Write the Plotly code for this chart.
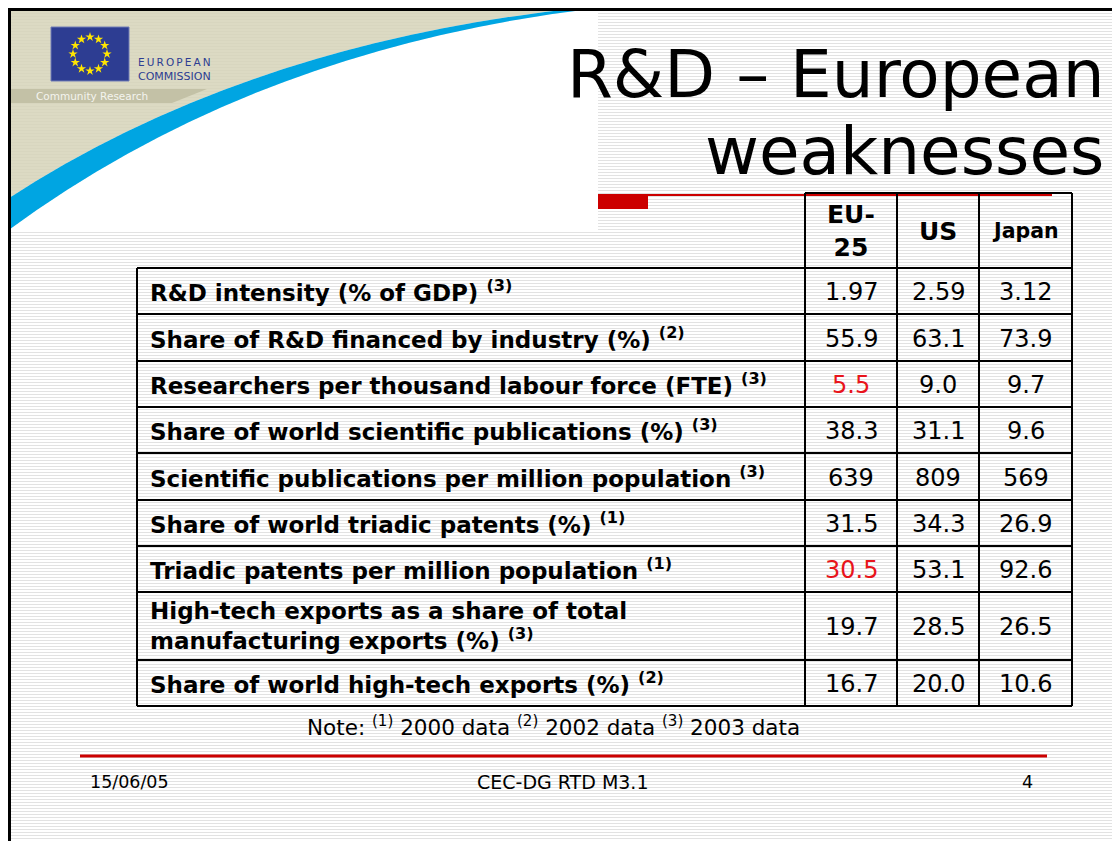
import math

import plotly.graph_objects as go


# table content
COLUMNS = ["EU-<br>25", "US", "Japan"]
INDICATORS = [
    "R&D intensity (% of GDP)",
    "Share of R&D financed by industry (%)",
    "Researchers per thousand labour force (FTE)",
    "Share of world scientific publications (%)",
    "Scientific publications per million population",
    "Share of world triadic patents (%)",
    "Triadic patents per million population",
    "High-tech exports as a share of total<br>manufacturing exports (%)",
    "Share of world high-tech exports (%)",
]
NOTE_REF = [3, 2, 3, 3, 3, 1, 1, 3, 2]
EU25 = [1.97, 55.9, 5.5, 38.3, 639, 31.5, 30.5, 19.7, 16.7]
US = [2.59, 63.1, 9.0, 31.1, 809, 34.3, 53.1, 28.5, 20.0]
JAPAN = [3.12, 73.9, 9.7, 9.6, 569, 26.9, 92.6, 26.5, 10.6]
DECIMALS = [2, 1, 1, 1, 0, 1, 1, 1, 1]
EU_WEAK = [2, 6]  # rows where the EU figure is shown in red
NOTE_YEARS = [2000, 2002, 2003]

W, H = 1120, 841
OFF = 8  # the page body has an 8px margin, shift the axes to compensate
FONT = "DejaVu Sans"
RED = "#cc0000"

# table geometry (pixels)
col_edges = [137, 805, 897, 979, 1072]
header_top = 193
row_edges = [268, 314, 361, 407, 453, 500, 546, 592, 660, 706]


def line(x0, y0, x1, y1, color="black", width=2):
    return dict(type="line", xref="x", yref="y", x0=x0, y0=y0, x1=x1, y1=y1,
                line=dict(color=color, width=width), layer="below")


def text(x, y, s, size, color="black", xanchor="center", **kw):
    return dict(x=x, y=y, xref="x", yref="y", text=s, showarrow=False,
                xanchor=xanchor, yanchor="middle",
                font=dict(family=FONT, size=size, color=color), **kw)


shapes = []
annotations = []

# striped slide background
stripes = "".join(f"M8,{y + 0.5}H{W + OFF}" for y in range(7, H + OFF, 3))
shapes.append(dict(type="path", xref="x", yref="y", path=stripes,
                   line=dict(color="#e2e2e2", width=1), layer="below"))

# header artwork: khaki corner, white area and blue swoosh
shapes.append(dict(type="path", xref="x", yref="y",
                   path="M6,5 L598,5 L598,6 Q250,40 6,200 Z",
                   fillcolor="#d6d3b8", opacity=0.85, line=dict(width=0),
                   layer="below"))
shapes.append(dict(type="path", xref="x", yref="y",
                   path="M6,232 Q255,48 598,8 L598,232 Z",
                   fillcolor="white", line=dict(width=0), layer="below"))
shapes.append(dict(type="path", xref="x", yref="y",
                   path="M6,89 L207,89 L172,103 L6,103 Z",
                   fillcolor="#c3c1a6", line=dict(width=0), layer="below"))
shapes.append(dict(type="path", xref="x", yref="y",
                   path="M6,200 Q250,40 598,6 L598,8 Q255,48 6,232 Z",
                   fillcolor="#00a5e2", line=dict(width=0), layer="below"))

# EU flag
shapes.append(dict(type="rect", xref="x", yref="y", x0=51, y0=27, x1=129, y1=81,
                   fillcolor="#2d3d92", line=dict(color="#6f7bb5", width=1),
                   layer="below"))

# slide border (as close to the page corner as the figure allows)
shapes.append(line(8, 9.5, W + OFF, 9.5, width=3))
shapes.append(line(9.5, 8, 9.5, H + OFF, width=3))

# red rule under the title
shapes.append(line(598, 195, 1052, 195, color=RED, width=2))
shapes.append(dict(type="rect", xref="x", yref="y", x0=598, y0=196, x1=648, y1=209,
                   fillcolor=RED, line=dict(width=0), layer="below"))

# table grid
for x in col_edges[1:]:
    shapes.append(line(x, header_top, x, row_edges[-1]))
shapes.append(line(col_edges[0], row_edges[0], col_edges[0], row_edges[-1]))
shapes.append(line(col_edges[1], header_top, col_edges[-1], header_top))
for y in row_edges:
    shapes.append(line(col_edges[0], y, col_edges[-1], y))

# footer rule
shapes.append(line(80, 756, 1047, 756, color=RED, width=3))

# title
annotations.append(text(1106, 74, "R&D – European", 66, xanchor="right"))
annotations.append(text(1106, 151, "weaknesses", 66, xanchor="right"))

# logo texts
annotations.append(text(136, 62, "E\u2009U\u2009R\u2009O\u2009P\u2009E\u2009A\u2009N", 10.5,
                        color="#2d3d92", xanchor="left"))
annotations.append(text(136, 76, "COMMISSION", 11, color="#2d3d92", xanchor="left"))
annotations.append(text(34, 96, "Community Research", 10.5, color="#f4f4ee",
                        xanchor="left"))

# column headers
col_mid = [(col_edges[i] + col_edges[i + 1]) / 2 for i in range(1, 4)]
header_sizes = [25, 25, 20.5]
for name, xm, sz in zip(COLUMNS, col_mid, header_sizes):
    annotations.append(text(xm, 231, f"<b>{name}</b>", sz))

# rows
for i, label in enumerate(INDICATORS):
    ym = (row_edges[i] + row_edges[i + 1]) / 2
    annotations.append(text(148, ym, f"<b>{label} <sup>({NOTE_REF[i]})</sup></b>",
                            23, xanchor="left", align="left"))
    for j, series in enumerate([EU25, US, JAPAN]):
        val = f"{series[i]:.{DECIMALS[i]}f}"
        color = "#e8141b" if (j == 0 and i in EU_WEAK) else "black"
        annotations.append(text(col_mid[j], ym + 1, val, 24, color=color))

# note
note = "Note: " + " ".join(f"<sup>({k + 1})</sup> {yr} data"
                           for k, yr in enumerate(NOTE_YEARS))
annotations.append(text(553, 726, note, 21.5))

# footer
annotations.append(text(88, 782, "15/06/05", 17.5, xanchor="left"))
annotations.append(text(563, 782, "CEC-DG RTD M3.1", 19))
annotations.append(text(1035, 782, "4", 17.5, xanchor="right"))

# flag stars
ang = [2 * math.pi * k / 12 for k in range(12)]
fig = go.Figure(go.Scatter(
    x=[90 + 17 * math.cos(a) for a in ang],
    y=[54 + 17 * math.sin(a) for a in ang],
    mode="markers",
    marker=dict(symbol="star", size=7, color="#ffe500", line=dict(width=0)),
    hoverinfo="skip",
))

fig.update_layout(
    width=W, height=H,
    margin=dict(l=0, r=0, t=0, b=0),
    paper_bgcolor="white",
    plot_bgcolor="white",
    showlegend=False,
    xaxis=dict(range=[OFF, W + OFF], visible=False, fixedrange=True),
    yaxis=dict(range=[H + OFF, OFF], visible=False, fixedrange=True),
    shapes=shapes,
    annotations=annotations,
)

fig.write_html("out.html")
